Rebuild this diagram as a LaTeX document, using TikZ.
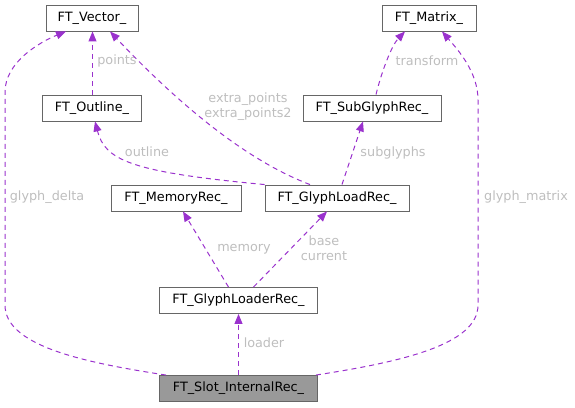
\documentclass[tikz,border=0pt]{standalone}
\usepackage{fontspec}
\setmainfont{DejaVu Sans}
\usetikzlibrary{arrows.meta,calc}
\definecolor{edgec}{HTML}{9A32CD}
\definecolor{labc}{HTML}{BEBEBE}
\definecolor{boxc}{HTML}{666666}
\definecolor{slotc}{HTML}{999999}
\begin{document}
\begin{tikzpicture}[x=1pt,y=-1pt,
  cls/.style={draw=boxc,line width=0.9pt,rectangle,minimum height=26pt,inner sep=0pt,font=\fontsize{12.8}{14}\selectfont,text=black},
  rel/.style={draw=edgec,line width=1pt,dash pattern=on 5pt off 4pt,-{Triangle[length=10pt,width=8pt]}},
  lab/.style={text=labc,font=\fontsize{12.8}{15}\selectfont,align=center,inner sep=0pt}]
\useasboundingbox (0,0) rectangle (575,407);
\node[cls,minimum width=92pt] (vec) at (92,18) {FT\_Vector\_};
\node[cls,minimum width=94pt] (mat) at (429,18) {FT\_Matrix\_};
\node[cls,minimum width=99pt] (out) at (92,108) {FT\_Outline\_};
\node[cls,minimum width=138pt] (sub) at (372,108) {FT\_SubGlyphRec\_};
\node[cls,minimum width=130pt] (mem) at (176,198) {FT\_MemoryRec\_};
\node[cls,minimum width=144pt] (glr) at (337,198) {FT\_GlyphLoadRec\_};
\node[cls,minimum width=158pt] (gldr) at (238.5,300.5) {FT\_GlyphLoaderRec\_};
\node[cls,minimum width=158pt,fill=slotc] (slot) at (238.5,388.5) {FT\_Slot\_InternalRec\_};
% edges
\draw[rel] ($(out.north)+(0.5,0)$) -- ($(vec.south)+(0.5,0)$);
\node[lab] (lpoints) at (117,61) {points};
\draw[rel] ($(glr.north)+(-27,0)$) .. controls (240,158) and (170,95) .. ($(vec.south)+(18,0)$);
\node[lab] (lextra) at (248,107) {extra\_points\\extra\_points2};
\draw[rel] (glr.north west) .. controls (130,172) and (105,160) .. ($(out.south)+(3,0)$);
\node[lab] (loutline) at (147,152) {outline};
\draw[rel] ($(sub.north)+(4,0)$) .. controls (382,70) and (392,45) .. ($(mat.south)+(-24,0)$);
\node[lab] (ltransform) at (427,61) {transform};
\draw[rel] ($(glr.north)+(5,0)$) -- ($(sub.south)+(-9,0)$);
\node[lab] (lsub) at (393,153) {subglyphs};
\draw[rel] ($(gldr.north)+(-10,0)$) -- ($(mem.south)+(7,0)$);
\node[lab] (lmem) at (244,249) {memory};
\draw[rel] ($(gldr.north)+(15,0)$) -- ($(glr.south)+(-10,0)$);
\node[lab] (lbase) at (324,248) {base\\current};
\draw[rel] (slot.north) -- (gldr.south);
\node[lab] (lloader) at (264,343) {loader};
\draw[rel] ($(slot.north west)+(7,0)$) .. controls (80,362) and (5,345) .. (5,305) -- (5,92) .. controls (5,62) and (40,42) .. ($(vec.south)+(-26,0)$);
\node[lab] (ldelta) at (47,197) {glyph\_delta};
\draw[rel] ($(slot.north east)+(-2,0)$) .. controls (400,362) and (478,345) .. (478,305) -- (478,100) .. controls (478,72) and (458,50) .. ($(mat.south)+(13,0)$);
\node[lab] (lmatrix) at (526,197) {glyph\_matrix};
\end{tikzpicture}
\end{document}
